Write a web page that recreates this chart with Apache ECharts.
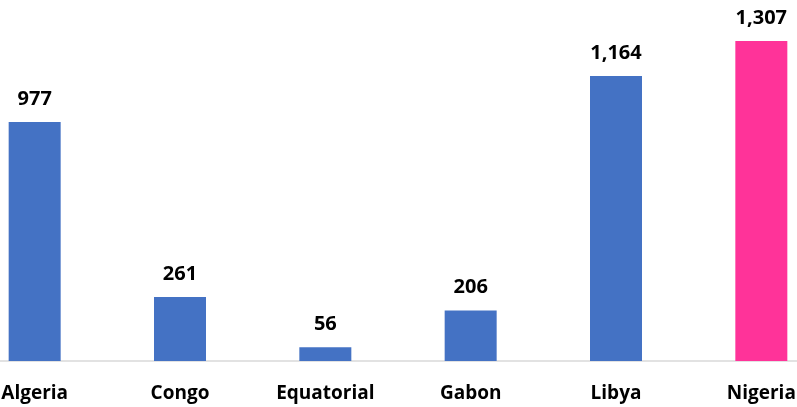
<!DOCTYPE html>
<html>
<head>
<meta charset="utf-8">
<script src="https://cdn.jsdelivr.net/npm/echarts@6/dist/echarts.min.js"></script>
<style>
  html, body { margin: 0; padding: 0; background: #fff; }
  #chart { width: 797px; height: 407px; }
</style>
</head>
<body>
<div id="chart"></div>
<script>
// data
var countries = ['Algeria', 'Congo', 'Equatorial', 'Gabon', 'Libya', 'Nigeria'];
var values = [977, 261, 56, 206, 1164, 1307];
var highlight = 'Nigeria';

var blue = '#4472C4';
var pink = '#FF3399';

var myChart = echarts.init(document.getElementById('chart'));

var barData = values.map(function (v, i) {
  return {
    value: v,
    itemStyle: { color: countries[i] === highlight ? pink : blue }
  };
});

myChart.setOption({
  animation: false,
  grid: {
    left: -38, right: -37, top: 0, bottom: 46,
    containLabel: false,
    outerBoundsMode: 'none'
  },
  xAxis: {
    type: 'category',
    data: countries,
    axisLine: { lineStyle: { color: '#D9D9D9', width: 1.5 } },
    axisTick: { show: false },
    axisLabel: {
      color: '#000',
      fontFamily: 'Open Sans',
      fontWeight: 'bold',
      fontSize: 19,
      margin: 23
    }
  },
  yAxis: {
    type: 'value',
    min: 0,
    max: 1475,
    show: false,
    splitLine: { show: false }
  },
  series: [{
    type: 'bar',
    data: barData,
    barWidth: 52,
    label: {
      show: true,
      position: 'top',
      distance: 13,
      color: '#000',
      fontFamily: 'Open Sans',
      fontWeight: 'bold',
      fontSize: 20,
      formatter: function (p) {
        return p.value.toLocaleString('en-US');
      }
    }
  }]
});
</script>
</body>
</html>
